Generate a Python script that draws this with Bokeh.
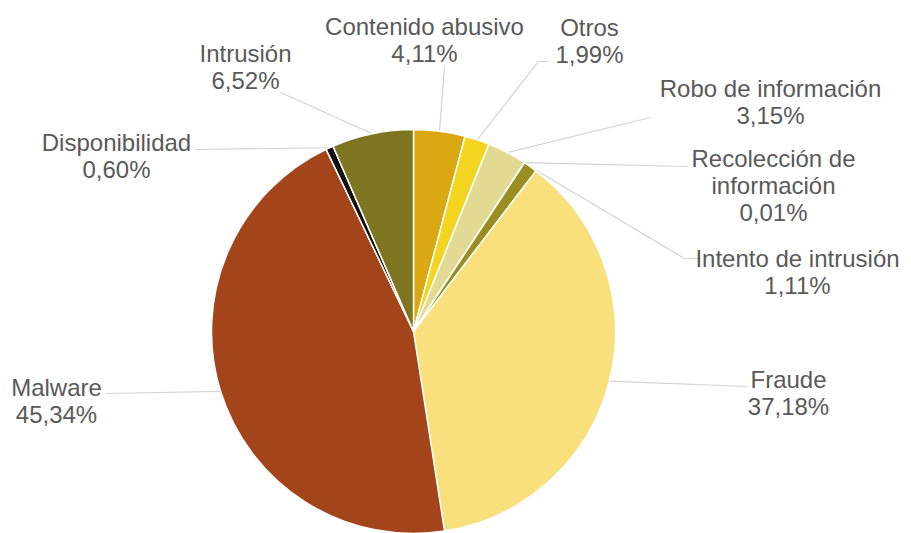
import math
from bokeh.plotting import figure
from bokeh.models import Range1d, ColumnDataSource
from bokeh.core.properties import value
from bokeh.embed import file_html
from bokeh.resources import INLINE

# ---- data ----
categories = ["Contenido abusivo", "Otros", "Robo de información",
              "Recolección de información", "Intento de intrusión",
              "Fraude", "Malware", "Disponibilidad", "Intrusión"]
values = [4.11, 1.99, 3.15, 0.01, 1.11, 37.18, 45.34, 0.60, 6.52]
colors = ["#DAA812", "#F3D41F", "#E2DA92", "#C9B84A", "#998E1F",
          "#F9E07C", "#A4441A", "#111111", "#7D751F"]

# ---- layout (reference pixel coords) ----
W, H = 911, 533
CX, CY, R = 413, 331, 202
label_layout = {
    "Contenido abusivo": ((424, 39), [(444, 66)]),
    "Otros": ((589, 40), [(548, 61), (538, 61)]),
    "Robo de información": ((770, 101), [(650, 117)]),
    "Recolección de información": ((773, 185), [(687, 166)]),
    "Intento de intrusión": ((797, 271), [(700, 258), (684, 258)]),
    "Fraude": ((788, 392), [(747, 386)]),
    "Malware": ((56, 400), [(105, 393)]),
    "Disponibilidad": ((116, 155), [(195, 149)]),
    "Intrusión": ((245, 66), [(280, 92)]),
}
wrap = {"Recolección de información": "Recolección de\ninformación"}


def dx(xr):
    return xr


def dy(yr):
    return H - yr


total = sum(values)
starts, ends, mids = [], [], []
cum = 0.0
for v in values:
    a0 = math.pi / 2 - 2 * math.pi * cum / total
    cum += v
    a1 = math.pi / 2 - 2 * math.pi * cum / total
    starts.append(a1)
    ends.append(a0)
    mids.append((a0 + a1) / 2)

pie = ColumnDataSource(dict(cat=categories, val=values, color=colors,
                            start=starts, end=ends))

p = figure(width=W, height=H, output_backend="svg", toolbar_location=None,
           x_range=Range1d(0, W), y_range=Range1d(0, H), min_border=0)
p.axis.visible = False
p.grid.visible = False
p.outline_line_color = None
p.background_fill_color = "white"

# leader lines
xs, ys = [], []
for cat, m in zip(categories, mids):
    pts = label_layout[cat][1]
    lx = [dx(x) for x, _ in pts] + [dx(CX) + R * math.cos(m)]
    ly = [dy(y) for _, y in pts] + [dy(CY) + R * math.sin(m)]
    xs.append(lx)
    ys.append(ly)
p.multi_line(xs, ys, line_color="#D3D3D3", line_width=1.2)

p.wedge(x=dx(CX), y=dy(CY), radius=R, start_angle="start", end_angle="end",
        fill_color="color", line_color="white", line_width=1.5, source=pie)

# labels
tx, ty, tt = [], [], []
for cat, v in zip(categories, values):
    (x, y), _ = label_layout[cat]
    tx.append(dx(x))
    ty.append(dy(y))
    pct = f"{v:.2f}".replace(".", ",") + "%"
    tt.append(wrap.get(cat, cat) + "\n" + pct)
p.text(tx, ty, text=tt, text_align="center", text_baseline="middle",
       text_font=value("Liberation Sans"), text_font_size="24px",
       text_color="#595959", text_line_height=1.0)

open("out.html", "w").write(file_html(p, INLINE))
